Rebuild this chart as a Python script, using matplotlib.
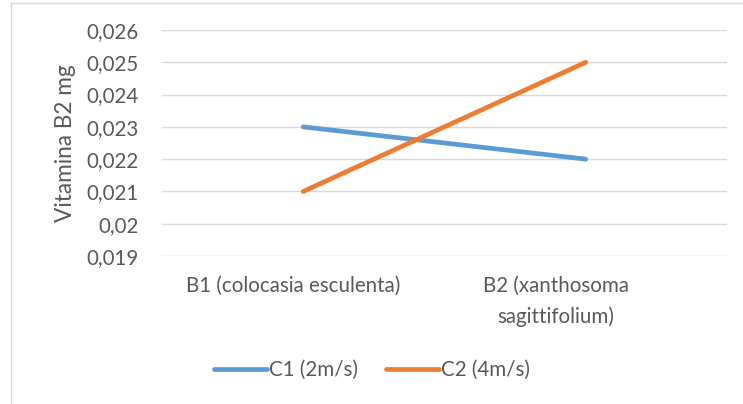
import matplotlib
matplotlib.use("Agg")
import matplotlib.pyplot as plt
from matplotlib.lines import Line2D
from matplotlib.transforms import ScaledTranslation

categories = ["B1 (colocasia esculenta)", "B2 (xanthosoma\nsagittifolium)"]
series_names = ["C1 (2m/s)", "C2 (4m/s)"]
c1_values = [0.023, 0.022]
c2_values = [0.021, 0.025]
y_ticks = [0.019, 0.020, 0.021, 0.022, 0.023, 0.024, 0.025, 0.026]
y_tick_labels = ["0,019", "0,02", "0,021", "0,022", "0,023", "0,024", "0,025", "0,026"]

W, H = 743, 404
fig = plt.figure(figsize=(W / 100, H / 100), dpi=100)
plt.rcParams['font.family'] = ['Lato', 'DejaVu Sans']
text_color = "#595959"
grid_color = "#D9D9D9"
fs = 14.8

ax = fig.add_axes([162 / W, 1 - 256 / H, (727 - 162) / W, (256 - 30) / H])
x = [0, 1]
ax.plot(x, c1_values, color="#5B9BD5", lw=3.4, solid_capstyle="round", label=series_names[0], zorder=3)
ax.plot(x, c2_values, color="#ED7D31", lw=3.4, solid_capstyle="round", label=series_names[1], zorder=3)
ax.set_xlim(-0.5, 1.5)
ax.set_ylim(0.019, 0.026)
ax.set_yticks(y_ticks)
ax.set_yticklabels(y_tick_labels)
ax.set_xticks(x)
ax.set_xticklabels(categories, linespacing=1.65, va="top")
for s in ax.spines.values():
    s.set_visible(False)
ax.grid(axis="y", color=grid_color, lw=1.0)
ax.tick_params(axis="both", length=0, labelsize=fs, colors=text_color)
ax.tick_params(axis="y", pad=17)
ax.tick_params(axis="x", pad=14)
ax.set_ylabel("Vitamina B2 mg", fontsize=fs + 1.5, color=text_color, labelpad=7)

# Excel-like horizontal offset of the category labels
offsets_px = [-10, -30]
for lbl, dx in zip(ax.get_xticklabels(), offsets_px):
    lbl.set_transform(lbl.get_transform() + ScaledTranslation(dx / 100, 0, fig.dpi_scale_trans))

handles = [Line2D([0], [0], color="#5B9BD5", lw=3.4, solid_capstyle="round"),
           Line2D([0], [0], color="#ED7D31", lw=3.4, solid_capstyle="round")]
leg = fig.legend(handles, series_names, loc="center", bbox_to_anchor=(372 / W, 1 - 370 / H),
                 ncol=2, frameon=False, fontsize=fs, handlelength=2.6, handletextpad=0.1,
                 columnspacing=1.35, labelcolor=text_color)

# chart area border (left and top)
fig.add_artist(Line2D([10.5 / W, 10.5 / W], [0, 1 - 2.5 / H], color=grid_color, lw=1.0))
fig.add_artist(Line2D([10.5 / W, 1], [1 - 2.5 / H, 1 - 2.5 / H], color=grid_color, lw=1.0))

fig.savefig("out.png", dpi=100, facecolor="white")
